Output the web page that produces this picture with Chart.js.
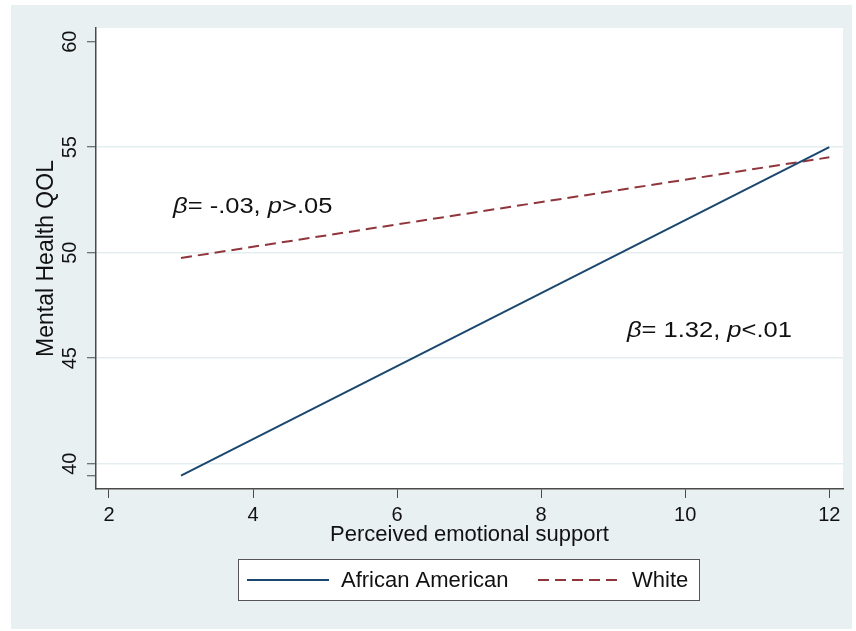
<!DOCTYPE html>
<html>
<head>
<meta charset="utf-8">
<script src="https://cdn.jsdelivr.net/npm/chart.js@4.4.1/dist/chart.umd.min.js"></script>
<style>
  html, body { margin: 0; padding: 0; background: #fff; }
</style>
</head>
<body>
<canvas id="chart" width="856" height="631"></canvas>
<script>
// values
const supportX = [3, 12]
const africanAmerican = [39.43, 55.0]
const white = [49.75, 54.52]
const seriesLabels = ['African American', 'White']
const xTicks = [2, 4, 6, 8, 10, 12]
const yTicks = [40, 45, 50, 55, 60]
const noteBetas = ['-.03', '1.32']
const notePs = ['>.05', '<.01']

const FONT = "'Liberation Sans', Arial, Helvetica, sans-serif"
const INK = '#111'
const AXIS = '#4a4a4a'
const GRID = '#e4edf0'
const PANEL = '#e9f0f2'
const BLUE = '#1a476f'
const RED = '#90353b'

const toPoints = (xs, ys) => xs.map((x, i) => ({ x: x, y: ys[i] }))

// outer panel + white plot region
const backdrop = {
  id: 'backdrop',
  beforeDraw: (chart) => {
    const { ctx, chartArea } = chart
    ctx.save()
    ctx.fillStyle = '#fff'
    ctx.fillRect(0, 0, chart.width, chart.height)
    ctx.fillStyle = PANEL
    ctx.fillRect(11, 5, 841, 624)
    ctx.fillStyle = '#fff'
    ctx.fillRect(chartArea.left, chartArea.top, chartArea.right - chartArea.left, chartArea.bottom - chartArea.top)
    ctx.restore()
  },
}

// Stata style vertical y tick labels
const yLabels = {
  id: 'yLabels',
  afterDraw: (chart) => {
    const { ctx } = chart
    const y = chart.scales.y
    ctx.save()
    ctx.fillStyle = INK
    ctx.font = `20px ${FONT}`
    ctx.textAlign = 'center'
    ctx.textBaseline = 'middle'
    yTicks.forEach((v) => {
      ctx.save()
      ctx.translate(70, y.getPixelForValue(v))
      ctx.rotate(-Math.PI / 2)
      ctx.fillText(String(v), 0, 0)
      ctx.restore()
    })
    ctx.restore()
  },
}

// beta / p annotations, anchored in data units (text is a bit wide in the original)
const notes = {
  id: 'notes',
  afterDatasetsDraw: (chart) => {
    const { ctx } = chart
    const xs = chart.scales.x
    const ys = chart.scales.y
    const anchors = [[2.89, 51.88], [9.19, 46.0]]
    ctx.save()
    ctx.fillStyle = INK
    ctx.textBaseline = 'alphabetic'
    anchors.forEach(([ax, ay], i) => {
      ctx.save()
      ctx.translate(xs.getPixelForValue(ax), ys.getPixelForValue(ay))
      ctx.scale(1.16, 1)
      let px = 0
      const parts = [
        ['β', true],
        ['= ' + noteBetas[i] + ', ', false],
        ['p', true],
        [notePs[i], false],
      ]
      parts.forEach(([t, it]) => {
        ctx.font = `${it ? 'italic ' : ''}22px ${FONT}`
        ctx.fillText(t, px, 0)
        px += ctx.measureText(t).width
      })
      ctx.restore()
    })
    ctx.restore()
  },
}

// boxed legend under the axis title
const boxLegend = {
  id: 'boxLegend',
  afterDraw: (chart) => {
    const { ctx } = chart
    const ds = chart.data.datasets
    ctx.save()
    ctx.fillStyle = '#fff'
    ctx.fillRect(238, 559, 462, 42)
    ctx.strokeStyle = '#555'
    ctx.lineWidth = 1
    ctx.strokeRect(238.5, 559.5, 461, 41)
    const slots = [247, 538]
    ds.forEach((d, i) => {
      const x0 = slots[i]
      ctx.strokeStyle = d.borderColor
      ctx.lineWidth = 2
      ctx.setLineDash(d.borderDash || [])
      ctx.beginPath()
      ctx.moveTo(x0, 580)
      ctx.lineTo(x0 + 82, 580)
      ctx.stroke()
      ctx.setLineDash([])
      ctx.fillStyle = INK
      ctx.font = `22px ${FONT}`
      ctx.textBaseline = 'middle'
      ctx.fillText(d.label, x0 + 94, 581)
    })
    ctx.restore()
  },
}

const ctx = document.getElementById('chart').getContext('2d')
new Chart(ctx, {
  type: 'line',
  data: {
    datasets: [
      {
        label: seriesLabels[0],
        data: toPoints(supportX, africanAmerican),
        borderColor: BLUE,
        borderWidth: 2,
        pointRadius: 0,
        fill: false,
      },
      {
        label: seriesLabels[1],
        data: toPoints(supportX, white),
        borderColor: RED,
        borderWidth: 2,
        borderDash: [11, 6],
        pointRadius: 0,
        fill: false,
      },
    ],
  },
  options: {
    responsive: false,
    animation: false,
    devicePixelRatio: 1,
    layout: { padding: { left: 0, right: 13, top: 28, bottom: 83 } },
    plugins: {
      legend: { display: false },
      tooltip: { enabled: false },
    },
    scales: {
      x: {
        type: 'linear',
        min: 1.82,
        max: 12.19,
        afterBuildTicks: (s) => {
          s.ticks = xTicks.map((v) => ({ value: v }))
        },
        afterFit: (s) => {
          s.height = 59
        },
        grid: { drawOnChartArea: false, drawTicks: true, tickLength: 9, tickColor: AXIS, tickWidth: 1 },
        border: { display: true, color: AXIS, width: 1.5 },
        ticks: { color: INK, font: { family: FONT, size: 20 }, padding: 5, maxRotation: 0, autoSkip: false },
        title: {
          display: true,
          text: 'Perceived emotional support',
          color: INK,
          font: { family: FONT, size: 22 },
          padding: { top: 0, bottom: 0 },
        },
      },
      y: {
        type: 'linear',
        min: 38.8,
        max: 60.65,
        afterBuildTicks: (s) => {
          s.ticks = [africanAmerican[0]].concat(yTicks).map((v) => ({ value: v }))
        },
        afterFit: (s) => {
          s.width = 96
        },
        grid: {
          color: (c) => (c.tick && c.tick.value >= 40 && c.tick.value < 60 ? GRID : 'rgba(0,0,0,0)'),
          lineWidth: 1.5,
          drawTicks: true,
          tickLength: 9,
          tickColor: AXIS,
          tickWidth: 1,
        },
        border: { display: true, color: AXIS, width: 1.5 },
        ticks: { display: false },
        title: {
          display: true,
          text: 'Mental Health QOL',
          color: INK,
          font: { family: FONT, size: 23 },
          padding: { top: 33, bottom: 0 },
        },
      },
    },
  },
  plugins: [backdrop, yLabels, notes, boxLegend],
})
</script>
</body>
</html>
